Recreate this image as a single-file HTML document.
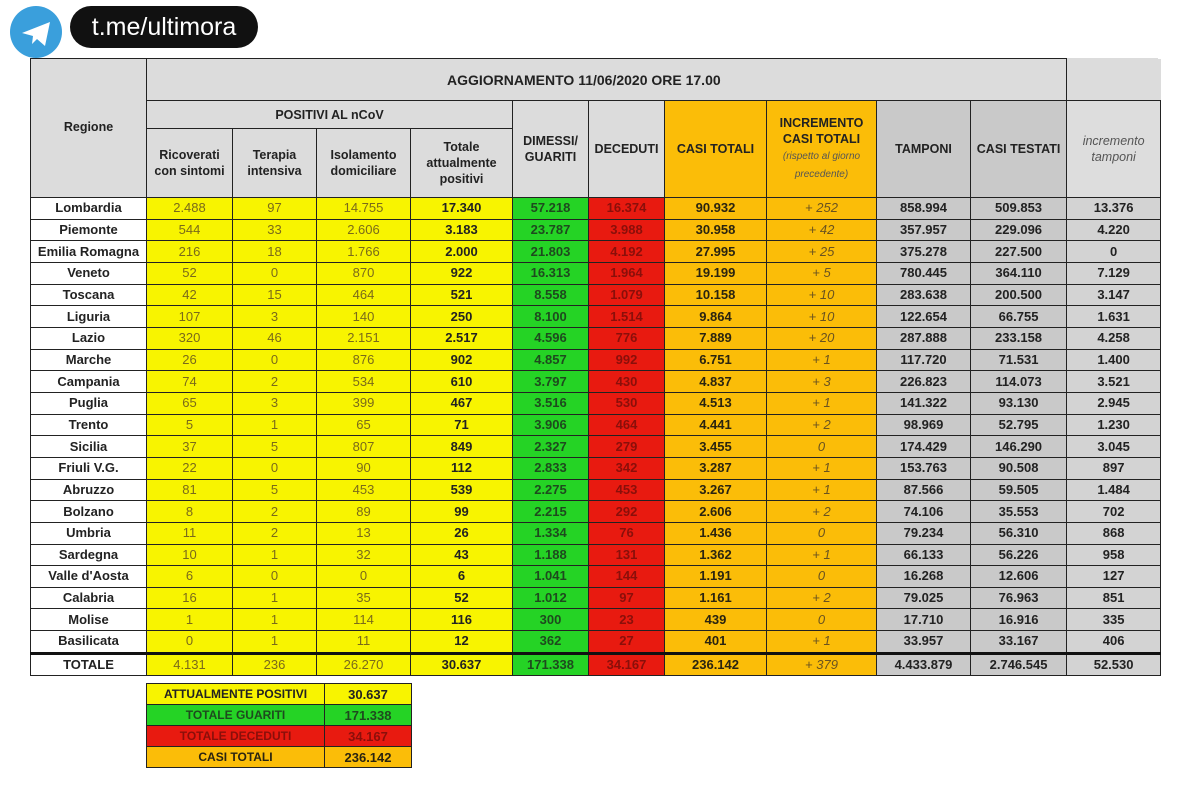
<!DOCTYPE html>
<html><head><meta charset="utf-8"><style>
body{margin:0;width:1200px;height:798px;background:#fff;position:relative;overflow:hidden;font-family:"Liberation Sans",sans-serif;}
table{border-collapse:collapse;table-layout:fixed;position:absolute;}
td{border:1.5px solid #222;padding:0;text-align:center;font-size:13px;color:#222;overflow:hidden;white-space:nowrap;}
#t tr.d td{height:20.67px;line-height:20px;}
.h{background:#dcdcdc;font-weight:bold;font-size:12.5px;white-space:normal;line-height:16px;}
.r{background:#fff;font-weight:bold;}
.y{background:#f8f400;color:#7a6a1a;}
.yb{background:#f8f400;color:#222;font-weight:bold;}
.g{background:#25d325;color:#1e4a1e;font-weight:bold;}
.re{background:#e81a10;color:#8a0f0a;font-weight:bold;}
.o{background:#fbbd08;color:#2a2410;font-weight:bold;}
.oi{background:#fbbd08;color:#6a5320;font-style:italic;}
.gr{background:#c9c9c9;font-weight:bold;color:#222;}
.gl{background:#d3d3d3;font-weight:bold;color:#222;}
</style></head><body>
<div style="position:absolute;left:10px;top:6px;width:52px;height:52px;border-radius:50%;background:#3a9fdc;"></div>
<svg style="position:absolute;left:10px;top:6px" width="52" height="52"><path d="M12 27 L40 16 L35 40 L27 33 L22 38 L23 30 Z" fill="#fff"/></svg>
<div style="position:absolute;left:70px;top:6px;width:188px;height:42px;border-radius:21px;background:#111;color:#fff;font-size:25px;line-height:42px;text-align:center;">t.me/ultimora</div>
<div style="position:absolute;left:1066px;top:58px;width:92px;height:42px;background:#dcdcdc;"></div>
<table id="t" style="left:30px;top:58px;width:1130px;">
<colgroup><col style="width:116px"><col style="width:86px"><col style="width:84px"><col style="width:94px"><col style="width:102px"><col style="width:76px"><col style="width:76px"><col style="width:102px"><col style="width:110px"><col style="width:94px"><col style="width:96px"><col style="width:94px"></colgroup>
<tr style="height:42px"><td class="h" rowspan="3" style="vertical-align:top;padding-top:60px">Regione</td><td class="h" colspan="10" style="font-size:14px;text-align:left;padding-left:300px">AGGIORNAMENTO 11/06/2020 ORE 17.00</td><td style="border:none;border-left:1.5px solid #222;background:#dcdcdc"></td></tr>
<tr style="height:28px"><td class="h" colspan="4">POSITIVI AL nCoV</td><td class="h" rowspan="2">DIMESSI/<br>GUARITI</td><td class="h" rowspan="2">DECEDUTI</td><td class="h" rowspan="2" style="background:#fbbd08">CASI TOTALI</td><td class="h" rowspan="2" style="background:#fbbd08">INCREMENTO<br>CASI TOTALI<br><i style="font-weight:normal;font-size:10px;color:#555">(rispetto al giorno<br>precedente)</i></td><td class="h" rowspan="2" style="background:#c9c9c9">TAMPONI</td><td class="h" rowspan="2" style="background:#c9c9c9">CASI TESTATI</td><td class="h" rowspan="2" style="font-weight:normal;font-style:italic;color:#555;background:#ddd">incremento<br>tamponi</td></tr>
<tr style="height:69px"><td class="h">Ricoverati<br>con sintomi</td><td class="h">Terapia<br>intensiva</td><td class="h">Isolamento<br>domiciliare</td><td class="h">Totale<br>attualmente<br>positivi</td></tr>
<tr class="d"><td class="r">Lombardia</td><td class="y">2.488</td><td class="y">97</td><td class="y">14.755</td><td class="yb">17.340</td><td class="g">57.218</td><td class="re">16.374</td><td class="o">90.932</td><td class="oi">+ 252</td><td class="gr">858.994</td><td class="gr">509.853</td><td class="gl">13.376</td></tr>
<tr class="d"><td class="r">Piemonte</td><td class="y">544</td><td class="y">33</td><td class="y">2.606</td><td class="yb">3.183</td><td class="g">23.787</td><td class="re">3.988</td><td class="o">30.958</td><td class="oi">+ 42</td><td class="gr">357.957</td><td class="gr">229.096</td><td class="gl">4.220</td></tr>
<tr class="d"><td class="r">Emilia Romagna</td><td class="y">216</td><td class="y">18</td><td class="y">1.766</td><td class="yb">2.000</td><td class="g">21.803</td><td class="re">4.192</td><td class="o">27.995</td><td class="oi">+ 25</td><td class="gr">375.278</td><td class="gr">227.500</td><td class="gl">0</td></tr>
<tr class="d"><td class="r">Veneto</td><td class="y">52</td><td class="y">0</td><td class="y">870</td><td class="yb">922</td><td class="g">16.313</td><td class="re">1.964</td><td class="o">19.199</td><td class="oi">+ 5</td><td class="gr">780.445</td><td class="gr">364.110</td><td class="gl">7.129</td></tr>
<tr class="d"><td class="r">Toscana</td><td class="y">42</td><td class="y">15</td><td class="y">464</td><td class="yb">521</td><td class="g">8.558</td><td class="re">1.079</td><td class="o">10.158</td><td class="oi">+ 10</td><td class="gr">283.638</td><td class="gr">200.500</td><td class="gl">3.147</td></tr>
<tr class="d"><td class="r">Liguria</td><td class="y">107</td><td class="y">3</td><td class="y">140</td><td class="yb">250</td><td class="g">8.100</td><td class="re">1.514</td><td class="o">9.864</td><td class="oi">+ 10</td><td class="gr">122.654</td><td class="gr">66.755</td><td class="gl">1.631</td></tr>
<tr class="d"><td class="r">Lazio</td><td class="y">320</td><td class="y">46</td><td class="y">2.151</td><td class="yb">2.517</td><td class="g">4.596</td><td class="re">776</td><td class="o">7.889</td><td class="oi">+ 20</td><td class="gr">287.888</td><td class="gr">233.158</td><td class="gl">4.258</td></tr>
<tr class="d"><td class="r">Marche</td><td class="y">26</td><td class="y">0</td><td class="y">876</td><td class="yb">902</td><td class="g">4.857</td><td class="re">992</td><td class="o">6.751</td><td class="oi">+ 1</td><td class="gr">117.720</td><td class="gr">71.531</td><td class="gl">1.400</td></tr>
<tr class="d"><td class="r">Campania</td><td class="y">74</td><td class="y">2</td><td class="y">534</td><td class="yb">610</td><td class="g">3.797</td><td class="re">430</td><td class="o">4.837</td><td class="oi">+ 3</td><td class="gr">226.823</td><td class="gr">114.073</td><td class="gl">3.521</td></tr>
<tr class="d"><td class="r">Puglia</td><td class="y">65</td><td class="y">3</td><td class="y">399</td><td class="yb">467</td><td class="g">3.516</td><td class="re">530</td><td class="o">4.513</td><td class="oi">+ 1</td><td class="gr">141.322</td><td class="gr">93.130</td><td class="gl">2.945</td></tr>
<tr class="d"><td class="r">Trento</td><td class="y">5</td><td class="y">1</td><td class="y">65</td><td class="yb">71</td><td class="g">3.906</td><td class="re">464</td><td class="o">4.441</td><td class="oi">+ 2</td><td class="gr">98.969</td><td class="gr">52.795</td><td class="gl">1.230</td></tr>
<tr class="d"><td class="r">Sicilia</td><td class="y">37</td><td class="y">5</td><td class="y">807</td><td class="yb">849</td><td class="g">2.327</td><td class="re">279</td><td class="o">3.455</td><td class="oi">0</td><td class="gr">174.429</td><td class="gr">146.290</td><td class="gl">3.045</td></tr>
<tr class="d"><td class="r">Friuli V.G.</td><td class="y">22</td><td class="y">0</td><td class="y">90</td><td class="yb">112</td><td class="g">2.833</td><td class="re">342</td><td class="o">3.287</td><td class="oi">+ 1</td><td class="gr">153.763</td><td class="gr">90.508</td><td class="gl">897</td></tr>
<tr class="d"><td class="r">Abruzzo</td><td class="y">81</td><td class="y">5</td><td class="y">453</td><td class="yb">539</td><td class="g">2.275</td><td class="re">453</td><td class="o">3.267</td><td class="oi">+ 1</td><td class="gr">87.566</td><td class="gr">59.505</td><td class="gl">1.484</td></tr>
<tr class="d"><td class="r">Bolzano</td><td class="y">8</td><td class="y">2</td><td class="y">89</td><td class="yb">99</td><td class="g">2.215</td><td class="re">292</td><td class="o">2.606</td><td class="oi">+ 2</td><td class="gr">74.106</td><td class="gr">35.553</td><td class="gl">702</td></tr>
<tr class="d"><td class="r">Umbria</td><td class="y">11</td><td class="y">2</td><td class="y">13</td><td class="yb">26</td><td class="g">1.334</td><td class="re">76</td><td class="o">1.436</td><td class="oi">0</td><td class="gr">79.234</td><td class="gr">56.310</td><td class="gl">868</td></tr>
<tr class="d"><td class="r">Sardegna</td><td class="y">10</td><td class="y">1</td><td class="y">32</td><td class="yb">43</td><td class="g">1.188</td><td class="re">131</td><td class="o">1.362</td><td class="oi">+ 1</td><td class="gr">66.133</td><td class="gr">56.226</td><td class="gl">958</td></tr>
<tr class="d"><td class="r">Valle d'Aosta</td><td class="y">6</td><td class="y">0</td><td class="y">0</td><td class="yb">6</td><td class="g">1.041</td><td class="re">144</td><td class="o">1.191</td><td class="oi">0</td><td class="gr">16.268</td><td class="gr">12.606</td><td class="gl">127</td></tr>
<tr class="d"><td class="r">Calabria</td><td class="y">16</td><td class="y">1</td><td class="y">35</td><td class="yb">52</td><td class="g">1.012</td><td class="re">97</td><td class="o">1.161</td><td class="oi">+ 2</td><td class="gr">79.025</td><td class="gr">76.963</td><td class="gl">851</td></tr>
<tr class="d"><td class="r">Molise</td><td class="y">1</td><td class="y">1</td><td class="y">114</td><td class="yb">116</td><td class="g">300</td><td class="re">23</td><td class="o">439</td><td class="oi">0</td><td class="gr">17.710</td><td class="gr">16.916</td><td class="gl">335</td></tr>
<tr class="d"><td class="r">Basilicata</td><td class="y">0</td><td class="y">1</td><td class="y">11</td><td class="yb">12</td><td class="g">362</td><td class="re">27</td><td class="o">401</td><td class="oi">+ 1</td><td class="gr">33.957</td><td class="gr">33.167</td><td class="gl">406</td></tr>
<tr class="d" style="border-top:3px solid #111"><td class="r">TOTALE</td><td class="y">4.131</td><td class="y">236</td><td class="y">26.270</td><td class="yb">30.637</td><td class="g">171.338</td><td class="re">34.167</td><td class="o">236.142</td><td class="oi">+ 379</td><td class="gr">4.433.879</td><td class="gr">2.746.545</td><td class="gl">52.530</td></tr>
</table>
<table style="left:146px;top:683px;width:265px;">
<colgroup><col style="width:178px"><col style="width:87px"></colgroup>
<tr style="height:21px"><td class="yb" style="font-size:12px">ATTUALMENTE POSITIVI</td><td class="yb">30.637</td></tr>
<tr style="height:21px"><td class="g" style="font-size:12px">TOTALE GUARITI</td><td class="g">171.338</td></tr>
<tr style="height:21px"><td class="re" style="font-size:12px">TOTALE DECEDUTI</td><td class="re">34.167</td></tr>
<tr style="height:21px"><td class="o" style="font-size:12px">CASI TOTALI</td><td class="o">236.142</td></tr>
</table>
</body></html>
